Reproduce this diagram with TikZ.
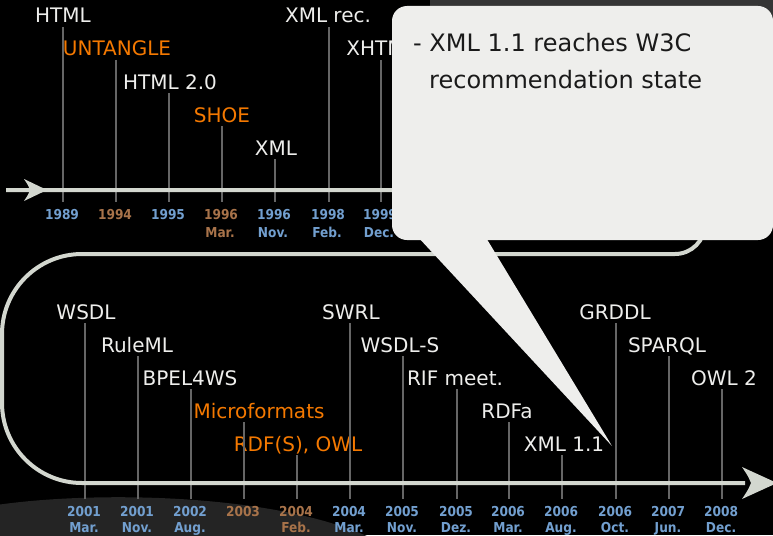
\documentclass[tikz,border=0pt]{standalone}
\usepackage{fontspec}
\setmainfont{DejaVu Sans}
\newfontfamily\yearfont{DejaVu Sans}[FakeStretch=0.89]
\definecolor{axisgray}{HTML}{D3D7CF}
\definecolor{tickgray}{HTML}{666666}
\definecolor{lblwhite}{HTML}{EEEEEC}
\definecolor{lblorange}{HTML}{F57900}
\definecolor{yrblue}{HTML}{729FCF}
\definecolor{yrbrown}{HTML}{A8734A}
\definecolor{callfill}{HTML}{EEEEEC}
\definecolor{calltext}{HTML}{1A1A1A}
\definecolor{patchgray}{HTML}{242424}
\definecolor{rimgray}{HTML}{353535}
\begin{document}
\begin{tikzpicture}[x=1pt,y=-1pt,
  lbl/.style={anchor=base,inner sep=0pt,font=\fontsize{20}{24}\selectfont,text=lblwhite},
  lblo/.style={lbl,text=lblorange},
  yr/.style={anchor=base,inner sep=0pt,font=\yearfont\bfseries\fontsize{13.7}{16}\selectfont,text=yrblue},
  yrb/.style={yr,text=yrbrown},
  tickline/.style={draw=tickgray,line width=2pt},
  axisline/.style={draw=axisgray,line width=4pt},
  calltxt/.style={anchor=base west,inner sep=0pt,font=\fontsize{24}{29}\selectfont,text=calltext}]
\useasboundingbox (0,0) rectangle (773,535);
\fill[black] (0,0) rectangle (773,535);
\clip (0,0) rectangle (773,535);

% background patches
\fill[patchgray] (-10,506) .. controls (90,490) and (290,492) .. (385,545) -- (-10,545) -- cycle;
\fill[rimgray,rounded corners=12] (430,-30) rectangle (800,20);

% ---------- upper timeline: labels ----------
\node[lbl]  (l89)  at (63,23)  {HTML};
\node[lblo] (l94)  at (117,56) {UNTANGLE};
\node[lbl]  (l95)  at (170,89) {HTML 2.0};
\node[lblo] (l96m) at (222,122) {SHOE};
\node[lbl]  (l96n) at (276,155) {XML};
\node[lbl]  (l98)  at (328,23) {XML rec.};
\node[lbl]  (l99)  at (381,56) {XHTML};

% tick feet of the upper timeline
\foreach \n/\x in {89/63,94/116,95/169,96m/222,96n/275,98/329,99/381}
  \coordinate (b\n) at (\x,202);
\foreach \n in {89,94,95,96m,96n,98,99}
  \draw[tickline] ([yshift=-4pt]l\n.base -| b\n) -- (b\n);

% years of the upper timeline
\node[yr]  (y89a)  at (62,219)  {1989};
\node[yrb] (y94a)  at (115,219) {1994};
\node[yr]  (y95a)  at (168,219) {1995};
\node[yrb] (y96ma) at (221,219) {1996};
\node[yrb] (y96mb) at (220,237) {Mar.};
\node[yr]  (y96na) at (274,219) {1996};
\node[yr]  (y96nb) at (273,237) {Nov.};
\node[yr]  (y98a)  at (328,219) {1998};
\node[yr]  (y98b)  at (327,237) {Feb.};
\node[yr]  (y99a)  at (380,219) {1999};
\node[yr]  (y99b)  at (379,237) {Dec.};

% ---------- lower timeline: labels ----------
\node[lbl]  (l01m) at (86,319)  {WSDL};
\node[lbl]  (l01n) at (137,352) {RuleML};
\node[lbl]  (l02)  at (190,385) {BPEL4WS};
\node[lblo] (l03)  at (259,418) {Microformats};
\node[lblo] (l04f) at (298,451) {RDF(S), OWL};
\node[lbl]  (l04m) at (351,319) {SWRL};
\node[lbl]  (l05n) at (400,352) {WSDL-S};
\node[lbl]  (l05d) at (455,385) {RIF meet.};
\node[lbl]  (l06m) at (507,418) {RDFa};
\node[lbl]  (l06a) at (564,451) {XML 1.1};
\node[lbl]  (l06o) at (615,319) {GRDDL};
\node[lbl]  (l07)  at (667,352) {SPARQL};
\node[lbl]  (l08)  at (724,385) {OWL 2};

\foreach \n/\x in {01m/85,01n/138,02/191,03/244,04f/297,04m/350,05n/403,05d/457,06m/509,06a/562,06o/616,07/669,08/722}
  \coordinate (b\n) at (\x,499);
\foreach \n in {01m,01n,02,03,04f,04m,05n,05d,06m,06a,06o,07,08}
  \draw[tickline] ([yshift=-4pt]l\n.base -| b\n) -- (b\n);

% years of the lower timeline
\foreach \n/\x/\yy/\mm/\st in {01m/84/2001/Mar./yr,01n/137/2001/Nov./yr,02/190/2002/Aug./yr,
    04f/296/2004/Feb./yrb,04m/349/2004/Mar./yr,05n/402/2005/Nov./yr,05d/456/2005/Dez./yr,
    06m/508/2006/Mar./yr,06a/561/2006/Aug./yr,06o/615/2006/Oct./yr,07/668/2007/Jun./yr,08/721/2008/Dec./yr}{
  \node[\st] (y\n a) at (\x,516.5) {\yy};
  \node[\st] (y\n b) at (\x,532) {\mm};
}
\node[yrb] (y03a) at (243,516.5) {2003};

% ---------- the winding time axis ----------
\coordinate (axstart) at (6,190);
\coordinate (axturn1) at (705,190);
\coordinate (axturn2) at (705,254);
\coordinate (axmid)   at (300,254);
\coordinate (axturn3) at (2,254);
\coordinate (axturn4) at (2,483);
\coordinate (axend)   at (745,483);
\draw[axisline,rounded corners=30pt] (axstart) -- (axturn1) -- (axturn2) -- (axmid);
\draw[axisline,rounded corners=80pt] (axmid) -- (axturn3) -- (axturn4) -- (axend);

% arrow heads on the axis
\fill[axisgray] (47,190) -- (24,179) .. controls (28,185) .. (30,190) .. controls (28,195) .. (24,201) -- cycle;
\fill[axisgray] (777,483) -- (742,467) .. controls (748,476) .. (751,483) .. controls (748,490) .. (742,499) -- cycle;

% ---------- speech balloon ----------
\fill[callfill,rounded corners=15pt] (392,6) rectangle (773,240);
\fill[callfill] (417,236) -- (612,446) -- (485,236) -- cycle;
\node[calltxt] (c1) at (413,52) {- XML 1.1 reaches W3C};
\node[calltxt] (c2) at (429,88) {recommendation state};
\end{tikzpicture}
\end{document}
